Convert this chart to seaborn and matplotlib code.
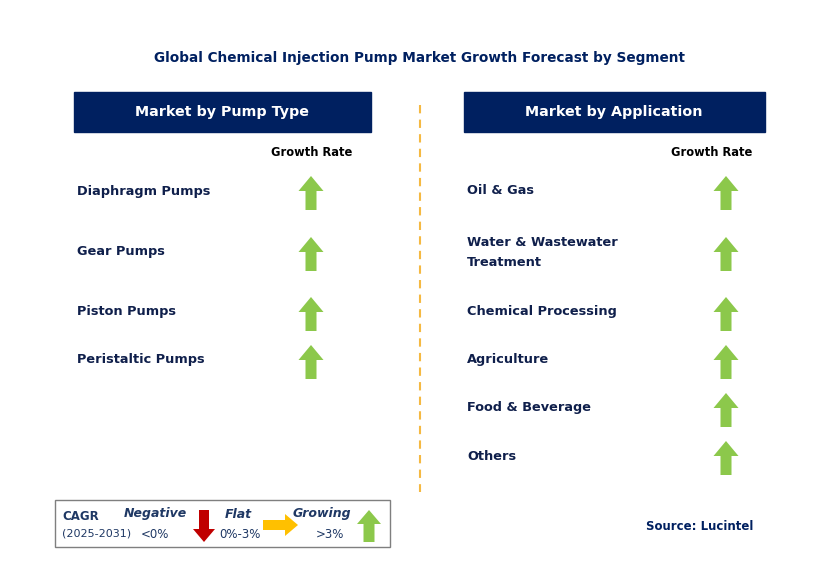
import matplotlib
matplotlib.use("Agg")
import matplotlib.pyplot as plt
import seaborn as sns
import pandas as pd
from matplotlib.patches import Rectangle, FancyArrow

pump_types = ["Diaphragm Pumps", "Gear Pumps", "Piston Pumps", "Peristaltic Pumps"]
pump_growth = ["Growing", "Growing", "Growing", "Growing"]
applications = ["Oil & Gas", "Water & Wastewater\nTreatment", "Chemical Processing",
                "Agriculture", "Food & Beverage", "Others"]
app_growth = ["Growing"] * 6

NAVY = "#002060"
GREEN = "#8cc84b"
TEXT = "#0f1f4b"

sns.set_theme(style="white")
fig = plt.figure(figsize=(8.29, 5.75), dpi=100)
ax = fig.add_axes([0, 0, 1, 1])
ax.set_xlim(0, 829)
ax.set_ylim(575, 0)
ax.axis("off")


def up_arrow(x, y, color=GREEN):
    ax.add_patch(FancyArrow(x, y + 17, 0, -34, width=11, head_width=25, head_length=15,
                            length_includes_head=True, color=color, lw=0))


ax.text(420, 58, "Global Chemical Injection Pump Market Growth Forecast by Segment",
        ha="center", va="center", fontsize=9.8, fontweight="bold", color=NAVY)

for x0, title in [(74, "Market by Pump Type"), (464, "Market by Application")]:
    ax.add_patch(Rectangle((x0, 92), 297 if x0 == 74 else 301, 40, color=NAVY))
    ax.text(x0 + (148 if x0 == 74 else 150), 112, title, ha="center", va="center",
            fontsize=10.3, fontweight="bold", color="white")

ax.text(312, 152, "Growth Rate", ha="center", va="center", fontsize=8.3, fontweight="bold", color="black")
ax.text(712, 152, "Growth Rate", ha="center", va="center", fontsize=8.3, fontweight="bold", color="black")

left = pd.DataFrame({"seg": pump_types, "growth": pump_growth, "y": [191, 252, 312, 360]})
right = pd.DataFrame({"seg": applications, "growth": app_growth,
                      "y": [191, 252, 312, 360, 408, 456]})

for df, xt, xa in [(left, 77, 311), (right, 467, 726)]:
    for _, r in df.iterrows():
        ax.text(xt, r.y, r.seg, ha="left", va="center", fontsize=9.3, fontweight="bold",
                color=TEXT, linespacing=1.7)
        up_arrow(xa, r.y + 2)

ax.plot([420, 420], [105, 492], ls=(0, (4, 3)), color="#f5b942", lw=1.5)

# legend box
ax.add_patch(Rectangle((55, 500), 335, 47, fill=False, ec="#7f7f7f", lw=1))
ax.text(62, 516, "CAGR", fontsize=8.5, fontweight="bold", color="#1f3864", va="center")
ax.text(62, 534, "(2025-2031)", fontsize=8, color="#1f3864", va="center")
ax.text(155, 514, "Negative", fontsize=9, fontweight="bold", style="italic", color="#1f3864", ha="center", va="center")
ax.text(155, 535, "<0%", fontsize=8.5, color="#1f3864", ha="center", va="center")
ax.add_patch(FancyArrow(204, 510, 0, 32, width=10, head_width=22, head_length=13,
                        length_includes_head=True, color="#c00000", lw=0))
ax.text(238, 514, "Flat", fontsize=9, fontweight="bold", style="italic", color="#1f3864", ha="center", va="center")
ax.text(240, 535, "0%-3%", fontsize=8.5, color="#1f3864", ha="center", va="center")
ax.add_patch(FancyArrow(263, 525, 35, 0, width=10, head_width=22, head_length=13,
                        length_includes_head=True, color="#ffc000", lw=0))
ax.text(322, 514, "Growing", fontsize=9, fontweight="bold", style="italic", color="#1f3864", ha="center", va="center")
ax.text(330, 535, ">3%", fontsize=8.5, color="#1f3864", ha="center", va="center")
ax.add_patch(FancyArrow(369, 542, 0, -32, width=11, head_width=24, head_length=14,
                        length_includes_head=True, color=GREEN, lw=0))

ax.text(700, 526, "Source: Lucintel", ha="center", va="center", fontsize=8.5,
        fontweight="bold", color=NAVY)

fig.savefig("out.png", dpi=100)
